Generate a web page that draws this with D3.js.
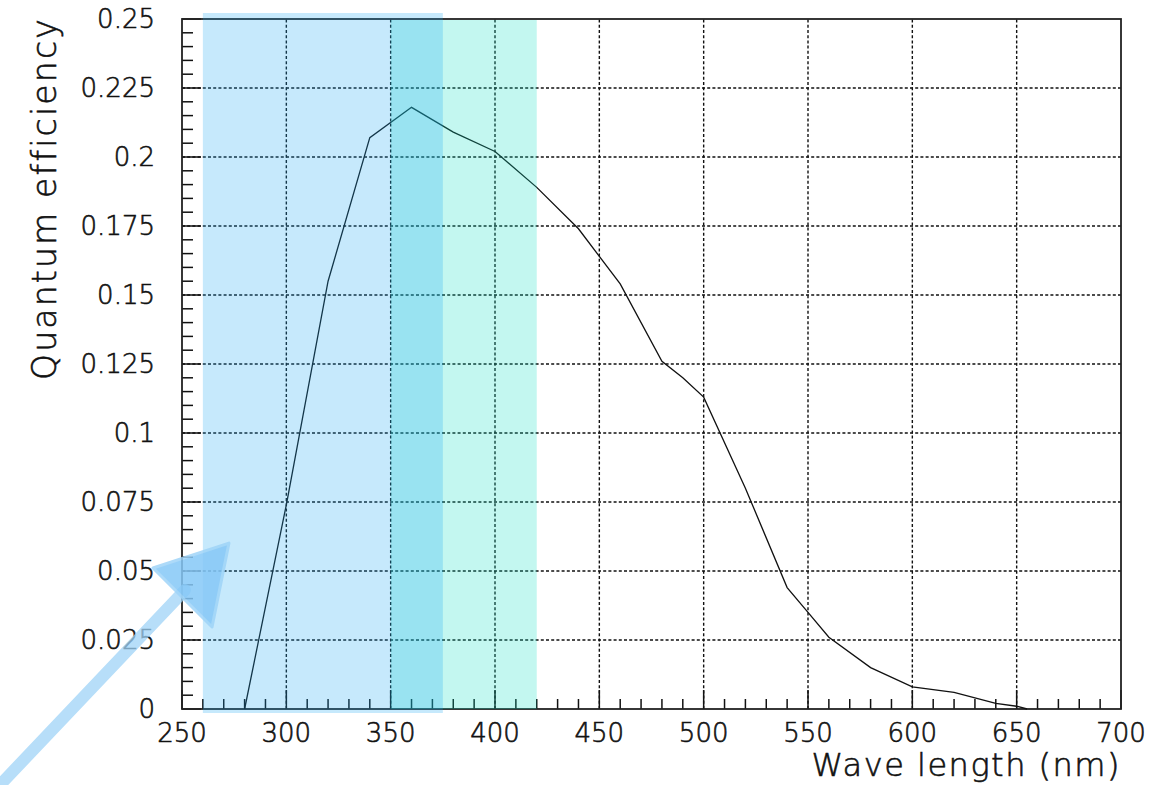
<!DOCTYPE html>
<html>
<head>
<meta charset="utf-8">
<script src="https://cdn.jsdelivr.net/npm/d3@7"></script>
<style>
  body { margin: 0; background: #fff; }
  svg { display: block; font-family: "DejaVu Sans", sans-serif; font-weight: 200; }
  svg text { stroke: #111; stroke-width: 0.6px; }
</style>
</head>
<body>
<div id="chart"></div>
<script>
// quantum efficiency curve
const waveLength = [280, 300, 320, 340, 360, 380, 400, 420, 440, 460, 480, 490, 500, 520, 540, 550, 560, 580, 600, 620, 640, 650, 655];
const efficiency = [0, 0.074, 0.155, 0.207, 0.218, 0.209, 0.202, 0.189, 0.174, 0.154, 0.126, 0.120, 0.113, 0.080, 0.044, 0.035, 0.026, 0.015, 0.008, 0.006, 0.002, 0.001, 0];

const xTicks = [250, 300, 350, 400, 450, 500, 550, 600, 650, 700];
const yTicks = [0, 0.025, 0.05, 0.075, 0.1, 0.125, 0.15, 0.175, 0.2, 0.225, 0.25];
const yTickLabels = ["0", "0.025", "0.05", "0.075", "0.1", "0.125", "0.15", "0.175", "0.2", "0.225", "0.25"];

// shaded wavelength bands [from, to]
const bandBlue = [260, 375];
const bandCyan = [350, 420];

// hand drawn arrow (in data units)
const arrowShaft = [[162.8, -0.0275], [251.4, 0.0431]];
const arrowHead = [[236.1, 0.0511], [272.5, 0.0601], [264.4, 0.0297]];

const width = 1170, height = 785;
const margin = { top: 19, right: 49, bottom: 76, left: 182 };

const svg = d3.select("#chart").append("svg")
  .attr("width", width)
  .attr("height", height);

const x = d3.scaleLinear().domain([250, 700]).range([margin.left, width - margin.right]);
const y = d3.scaleLinear().domain([0, 0.25]).range([height - margin.bottom, margin.top]);

const x0 = x.range()[0], x1 = x.range()[1];
const yb = y.range()[0], yt = y.range()[1];

// grid
const grid = svg.append("g").attr("stroke", "#111").attr("stroke-width", 1.4).attr("stroke-dasharray", "3,2.2");
grid.selectAll(".gx").data(xTicks.slice(1, -1)).enter().append("line")
  .attr("x1", d => x(d)).attr("x2", d => x(d))
  .attr("y1", yb).attr("y2", yt);
grid.selectAll(".gy").data(yTicks.slice(1, -1)).enter().append("line")
  .attr("x1", x0).attr("x2", x1)
  .attr("y1", d => y(d)).attr("y2", d => y(d));

// ticks: major and minor
const minorX = d3.range(250, 701, 10);
const minorY = d3.range(0, 0.2501, 0.005);
const ticks = svg.append("g").attr("stroke", "#111").attr("stroke-width", 1.5);
ticks.selectAll(".mx").data(minorX).enter().append("line")
  .attr("x1", d => x(d)).attr("x2", d => x(d))
  .attr("y1", yb).attr("y2", d => yb - (d % 50 === 0 ? 19 : 10));
ticks.selectAll(".my").data(minorY).enter().append("line")
  .attr("y1", d => y(d)).attr("y2", d => y(d))
  .attr("x1", x0).attr("x2", (d, i) => x0 + (i % 5 === 0 ? 19 : 11));

// frame
svg.append("rect")
  .attr("x", x0).attr("y", yt)
  .attr("width", x1 - x0).attr("height", yb - yt)
  .attr("fill", "none").attr("stroke", "#222").attr("stroke-width", 1.8);

// curve
const line = d3.line().x(d => x(d[0])).y(d => y(d[1]));
svg.append("path")
  .datum(d3.zip(waveLength, efficiency))
  .attr("d", line)
  .attr("fill", "none")
  .attr("stroke", "#111")
  .attr("stroke-width", 1.3);

// bands on top, translucent
svg.append("rect")
  .attr("x", x(bandCyan[0])).attr("width", x(bandCyan[1]) - x(bandCyan[0]))
  .attr("y", yt + 1).attr("height", yb - yt - 1)
  .attr("fill", "rgb(15,223,195)").attr("fill-opacity", 0.25);
svg.append("rect")
  .attr("x", x(bandBlue[0])).attr("width", x(bandBlue[1]) - x(bandBlue[0]))
  .attr("y", yt - 6).attr("height", yb - yt + 10)
  .attr("fill", "rgb(27,167,243)").attr("fill-opacity", 0.25);

// tick labels
svg.append("g").selectAll("text").data(xTicks).enter().append("text")
  .attr("x", d => x(d)).attr("y", yb + 33)
  .attr("text-anchor", "middle")
  .attr("font-size", 26).attr("fill", "#111")
  .text(d => d);
svg.append("g").selectAll("text").data(yTicks).enter().append("text")
  .attr("x", x0 - 27).attr("y", d => y(d))
  .attr("dy", "0.36em")
  .attr("text-anchor", "end")
  .attr("font-size", 26).attr("fill", "#111")
  .text((d, i) => yTickLabels[i]);

// axis titles
svg.append("text")
  .attr("x", x1).attr("y", 776)
  .attr("text-anchor", "end")
  .attr("font-size", 32).attr("letter-spacing", 1.5).attr("fill", "#111")
  .text("Wave length (nm)");
svg.append("text")
  .attr("transform", `translate(56,${yt - 2}) rotate(-90)`)
  .attr("text-anchor", "end")
  .attr("font-size", 33).attr("letter-spacing", 2.2).attr("fill", "#111")
  .text("Quantum efficiency");

// arrow annotation
svg.append("line")
  .attr("x1", x(arrowShaft[0][0])).attr("y1", y(arrowShaft[0][1]))
  .attr("x2", x(arrowShaft[1][0])).attr("y2", y(arrowShaft[1][1]))
  .attr("stroke", "#9fd4f8").attr("stroke-width", 12)
  .attr("stroke-linecap", "round").attr("opacity", 0.75);
svg.append("polygon")
  .attr("points", arrowHead.map(p => [x(p[0]), y(p[1])].join(",")).join(" "))
  .attr("fill", "#86c8f7").attr("stroke", "#9fd4f8").attr("stroke-width", 3)
  .attr("stroke-linejoin", "round").attr("opacity", 0.85);
</script>
</body>
</html>
